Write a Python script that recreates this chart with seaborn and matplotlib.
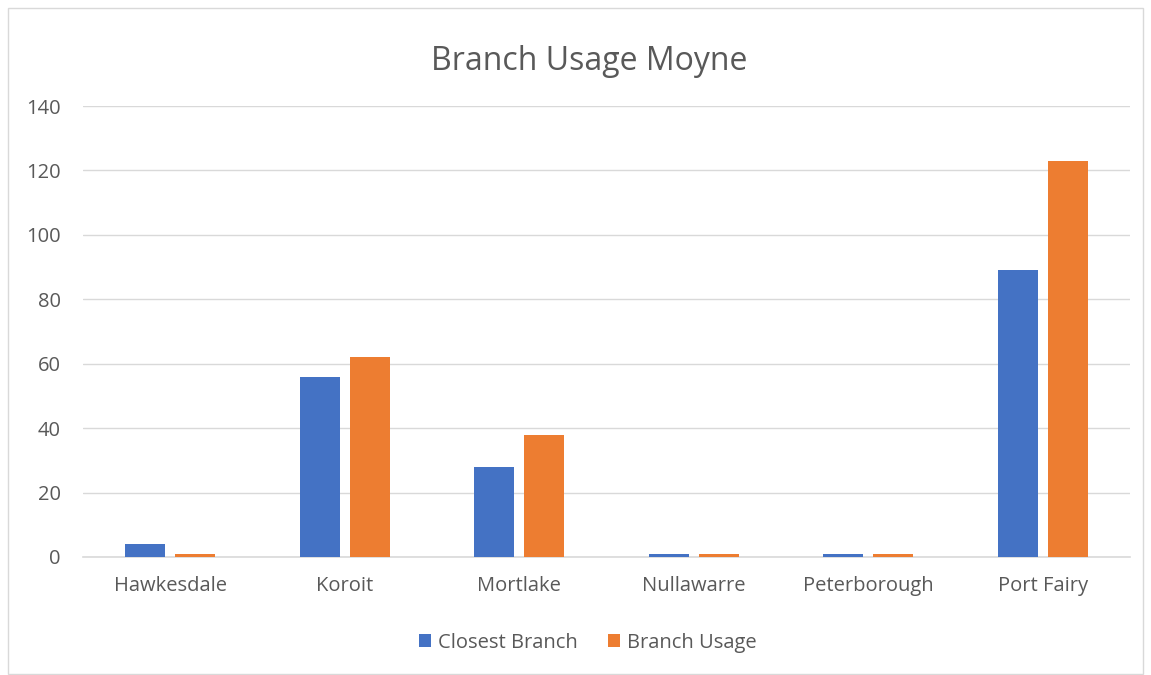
import matplotlib
matplotlib.use("Agg")
import matplotlib.pyplot as plt
from matplotlib.patches import Rectangle
import seaborn as sns
import pandas as pd

# Branch usage values
branches = ['Hawkesdale', 'Koroit', 'Mortlake', 'Nullawarre', 'Peterborough', 'Port Fairy']
closest_branch = [4, 56, 28, 1, 1, 89]
branch_usage = [1, 62, 38, 1, 1, 123]
series_names = ['Closest Branch', 'Branch Usage']
y_ticks = [0, 20, 40, 60, 80, 100, 120, 140]

df = pd.DataFrame({
    'Branch': branches * 2,
    'Series': [series_names[0]] * len(branches) + [series_names[1]] * len(branches),
    'Value': closest_branch + branch_usage,
})

sns.set_style("white")
plt.rcParams['font.family'] = ['Open Sans', 'DejaVu Sans']
text_col = '#595959'

fig = plt.figure(figsize=(11.51, 6.75), dpi=100)
ax = fig.add_axes([83 / 1151, 1 - 557 / 675, (1130 - 83) / 1151, (557 - 106) / 675])

sns.barplot(data=df, x='Branch', y='Value', hue='Series', order=branches,
            hue_order=series_names, palette=['#4472C4', '#ED7D31'],
            width=0.573, gap=0.2, saturation=1, linewidth=0,
            ax=ax, legend=True, zorder=3)

ax.set_ylim(0, 140)
ax.set_yticks(y_ticks)
ax.set_xlim(-0.5, len(branches) - 0.5)
ax.grid(True, axis='y', color='#d9d9d9', linewidth=1, zorder=0)
ax.set_axisbelow(True)
for s in ['left', 'right', 'top']:
    ax.spines[s].set_visible(False)
ax.spines['bottom'].set_color('#d9d9d9')
ax.spines['bottom'].set_linewidth(1.2)
ax.tick_params(axis='both', length=0, labelsize=14.5, colors=text_col)
ax.tick_params(axis='x', pad=14)
ax.tick_params(axis='y', pad=16)
ax.set_xlabel('')
ax.set_ylabel('')

fig.text(0.512, 1 - 61 / 675, 'Branch Usage Moyne', ha='center', va='center',
         fontsize=23, color=text_col)

leg = ax.legend(loc='center', bbox_to_anchor=(0.482, -0.19), ncol=2, frameon=False,
                fontsize=14.5, handlelength=0.6, handleheight=0.6, handletextpad=0.35,
                columnspacing=1.5)
for t in leg.get_texts():
    t.set_color(text_col)

fig.patches.append(Rectangle((8 / 1151, 0.002), 1 - 16 / 1151, 1 - 8 / 675 - 0.002,
                             transform=fig.transFigure, fill=False,
                             edgecolor='#d9d9d9', linewidth=1))

fig.savefig('out.png', dpi=100)
